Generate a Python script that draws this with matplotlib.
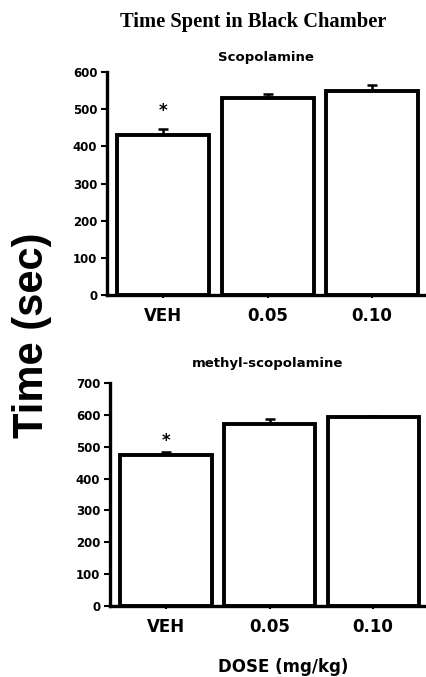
import numpy as np
import matplotlib
matplotlib.use("Agg")
import matplotlib.pyplot as plt
from matplotlib.ticker import MultipleLocator

doses = ["VEH", "0.05", "0.10"]
scop_mean = [430, 530, 550]
scop_err = [17, 10, 14]
mscop_mean = [475, 572, 593]
mscop_err = [10, 17, 3]
scop_ticks = [0, 100, 200, 300, 400, 500, 600]
mscop_ticks = [0, 100, 200, 300, 400, 500, 600, 700]

plt.rcParams['font.family'] = ['DejaVu Sans']

fig = plt.figure(figsize=(4.27, 6.77), dpi=100)


def panel(rect, means, errs, ticks, title, star_y, title_pad):
    ax = fig.add_axes(rect)
    x = np.arange(len(doses))
    ax.bar(x, means, width=0.88, color="white", edgecolor="black",
           linewidth=2.8, zorder=2)
    ax.errorbar(x, means, yerr=[np.zeros(len(errs)), errs], fmt="none",
                ecolor="black", elinewidth=1.8, capsize=3.5, capthick=1.8, zorder=1)
    ax.text(0, star_y, "*", ha="center", va="center", fontsize=12, fontweight="bold")
    ax.set_xlim(-0.54, 2.51)
    ax.set_ylim(0, ticks[-1])
    ax.set_yticks(ticks)
    ax.set_yticklabels([str(t) for t in ticks], fontsize=8.5, fontweight="bold")
    ax.yaxis.set_minor_locator(MultipleLocator(50))
    ax.tick_params(axis="y", which="major", direction="out", length=4, width=1.5, pad=3)
    ax.tick_params(axis="y", which="minor", direction="inout", length=2, width=1.2)
    ax.set_xticks(x)
    ax.set_xticklabels(doses, fontsize=12, fontweight="bold")
    ax.tick_params(axis="x", direction="out", length=2, width=1.5, pad=7)
    for s in ["top", "right"]:
        ax.spines[s].set_visible(False)
    ax.spines["left"].set_linewidth(2.4)
    ax.spines["bottom"].set_linewidth(2.4)
    ax.set_title(title, fontsize=9.5, fontweight="bold", pad=title_pad)
    return ax


panel([0.2506, 0.5643, 0.745, 0.3293], scop_mean, scop_err, scop_ticks,
      "Scopolamine", 495, 8)
panel([0.2576, 0.1053, 0.740, 0.3285], mscop_mean, mscop_err, mscop_ticks,
      "methyl-scopolamine", 520, 12)

fig.text(0.593, 0.968, "Time Spent in Black Chamber", ha="center", va="center",
         fontsize=14.8, fontweight="bold", family=["Liberation Serif", "DejaVu Serif"])
fig.text(0.076, 0.505, "Time (sec)", rotation=90, ha="center", va="center",
         fontsize=30, fontweight="bold", family=["Liberation Sans", "DejaVu Sans"])
fig.text(0.663, 0.0148, "DOSE (mg/kg)", ha="center", va="center",
         fontsize=12, fontweight="bold")

fig.savefig("out.png", dpi=100)
